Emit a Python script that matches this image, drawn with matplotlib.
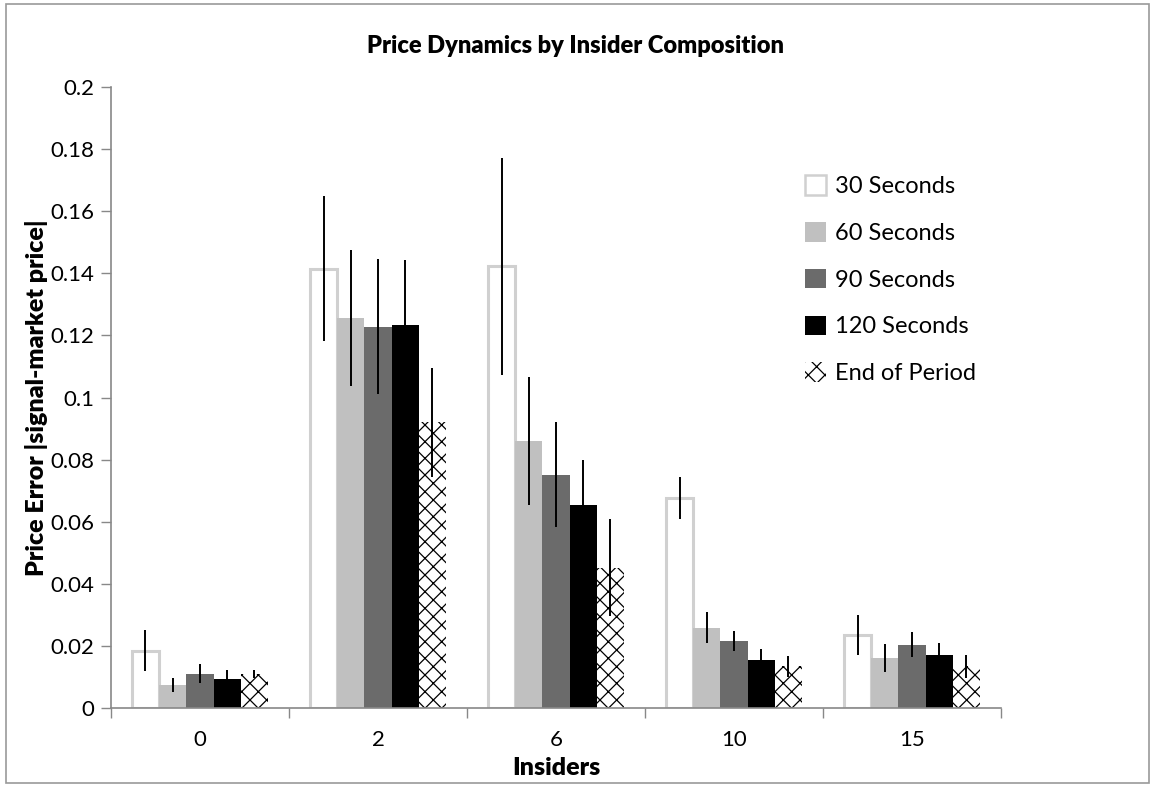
import numpy as np
import matplotlib.pyplot as plt
from matplotlib.patches import Rectangle, Patch

plt.rcParams['font.family'] = ['Lato', 'DejaVu Sans']
plt.rcParams['hatch.linewidth'] = 0.9

insiders = ['0', '2', '6', '10', '15']
series = ['30 Seconds', '60 Seconds', '90 Seconds', '120 Seconds', 'End of Period']

# mean price error per group, and half-width of the error bar
sec30 = [0.0185, 0.1415, 0.1422, 0.0677, 0.0234]
sec60 = [0.0074, 0.1256, 0.0860, 0.0258, 0.0162]
sec90 = [0.0111, 0.1228, 0.0752, 0.0216, 0.0204]
sec120 = [0.0095, 0.1234, 0.0653, 0.0156, 0.0172]
endp = [0.0110, 0.0920, 0.0452, 0.0134, 0.0134]

err30 = [0.0066, 0.0233, 0.0350, 0.0067, 0.0064]
err60 = [0.0023, 0.0220, 0.0205, 0.0050, 0.0045]
err90 = [0.0031, 0.0218, 0.0170, 0.0033, 0.0040]
err120 = [0.0026, 0.0210, 0.0145, 0.0034, 0.0037]
errend = [0.0012, 0.0175, 0.0157, 0.0033, 0.0038]

values = [sec30, sec60, sec90, sec120, endp]
errors = [err30, err60, err90, err120, errend]
faces = ['white', '#c0c0c0', '#6b6b6b', 'black', 'white']
edges = ['#d0d0d0', '#c0c0c0', '#6b6b6b', 'black', 'black']
lws = [2.2, 0, 0, 0, 0]
hatches = [None, None, None, None, 'xx']

fig = plt.figure(figsize=(11.51, 7.86), dpi=100)
ax = fig.add_axes([0.0964, 0.0992, 0.7733, 0.7901])

x = np.arange(len(insiders))
w = 0.153
for i in range(5):
    pos = x - 2 * w + i * w
    ax.bar(pos, values[i], w, color=faces[i], edgecolor=edges[i], linewidth=lws[i],
           hatch=hatches[i], zorder=2)
    ax.errorbar(pos, values[i], yerr=errors[i], fmt='none', ecolor='black',
                elinewidth=1.4, capsize=0, zorder=3)

ax.set_xlim(-0.5, 4.5)
ax.set_ylim(0, 0.2)
ax.set_yticks(np.arange(0, 0.201, 0.02))
ax.set_yticklabels(['0', '0.02', '0.04', '0.06', '0.08', '0.1', '0.12', '0.14', '0.16', '0.18', '0.2'])
ax.set_xticks(x)
ax.set_xticklabels(insiders)
ax.set_xticks(np.arange(-0.5, 5, 1), minor=True)
ax.tick_params(axis='x', which='major', length=0, pad=16, labelsize=16)
ax.tick_params(axis='x', which='minor', length=7, color='#888888', width=1)
ax.tick_params(axis='y', length=7, color='#888888', width=1, labelsize=16, pad=5)
for s in ['top', 'right']:
    ax.spines[s].set_visible(False)
for s in ['left', 'bottom']:
    ax.spines[s].set_color('#888888')
    ax.spines[s].set_linewidth(1.2)

ax.set_xlabel('Insiders', fontsize=18, fontweight='heavy', labelpad=5)
ax.set_ylabel('Price Error |signal-market price|', fontsize=18, fontweight='heavy', labelpad=2)
fig.text(0.5, 0.942, 'Price Dynamics by Insider Composition', ha='center', va='center',
         fontsize=17, fontweight='heavy')

handles = [Patch(facecolor=faces[i], edgecolor=edges[i],
                 linewidth=1.8 if i == 0 else 0, hatch=hatches[i]) for i in range(5)]
fig.legend(handles, series, loc='upper left', bbox_to_anchor=(0.681, 0.804),
           frameon=False, fontsize=17, handlelength=0.9, handleheight=0.9,
           handletextpad=0.35, labelspacing=1.05)

fig.add_artist(Rectangle((0.005, 0.004), 0.993, 0.991, transform=fig.transFigure,
                         fill=False, edgecolor='#999999', linewidth=1.2))

fig.savefig('out.png', dpi=100)
